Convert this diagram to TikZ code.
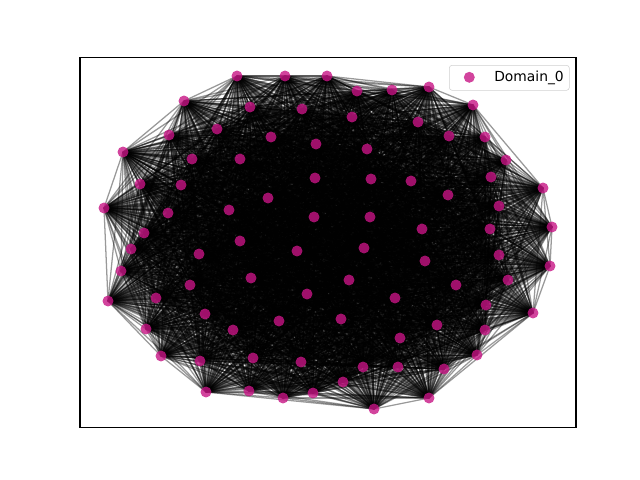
\documentclass[tikz,border=0pt]{standalone}
\usepackage{fontspec}
\setmainfont{DejaVu Sans}
\usepackage{tikz}
\usetikzlibrary{backgrounds}
\definecolor{domaincol}{HTML}{C71585}

\begin{document}
\begin{tikzpicture}[x=0.025cm, y=-0.025cm,
  vertex/.style={fill=domaincol, fill opacity=0.8, circle, inner sep=0pt, minimum size=7.8pt},
  link/.style={draw=black, draw opacity=0.4, line width=0.9pt}]
\useasboundingbox (0,0) rectangle (640,480);
\node[vertex] (N1) at (237,76) {};
\node[vertex] (N2) at (285,76) {};
\node[vertex] (N3) at (327,76) {};
\node[vertex] (N4) at (357,91) {};
\node[vertex] (N5) at (392,90) {};
\node[vertex] (N6) at (429,87) {};
\node[vertex] (N7) at (473,105) {};
\node[vertex] (N8) at (184,101) {};
\node[vertex] (N9) at (250,107) {};
\node[vertex] (N10) at (302,109) {};
\node[vertex] (N11) at (352,117) {};
\node[vertex] (N12) at (418,122) {};
\node[vertex] (N13) at (217,129) {};
\node[vertex] (N14) at (169,135) {};
\node[vertex] (N15) at (271,137) {};
\node[vertex] (N16) at (316,144) {};
\node[vertex] (N17) at (367,149) {};
\node[vertex] (N18) at (449,136) {};
\node[vertex] (N19) at (485,137) {};
\node[vertex] (N20) at (123,152) {};
\node[vertex] (N21) at (192,159) {};
\node[vertex] (N22) at (240,159) {};
\node[vertex] (N23) at (506,160) {};
\node[vertex] (N24) at (491,177) {};
\node[vertex] (N25) at (140,184) {};
\node[vertex] (N26) at (181,185) {};
\node[vertex] (N27) at (315,178) {};
\node[vertex] (N28) at (371,179) {};
\node[vertex] (N29) at (411,181) {};
\node[vertex] (N30) at (543,188) {};
\node[vertex] (N31) at (104,208) {};
\node[vertex] (N32) at (168,213) {};
\node[vertex] (N33) at (229,210) {};
\node[vertex] (N34) at (268,198) {};
\node[vertex] (N35) at (448,195) {};
\node[vertex] (N36) at (499,206) {};
\node[vertex] (N37) at (314,217) {};
\node[vertex] (N38) at (370,217) {};
\node[vertex] (N39) at (552,227) {};
\node[vertex] (N40) at (422,229) {};
\node[vertex] (N41) at (490,229) {};
\node[vertex] (N42) at (144,233) {};
\node[vertex] (N43) at (240,241) {};
\node[vertex] (N44) at (131,249) {};
\node[vertex] (N45) at (199,254) {};
\node[vertex] (N46) at (297,251) {};
\node[vertex] (N47) at (364,248) {};
\node[vertex] (N48) at (499,255) {};
\node[vertex] (N49) at (425,261) {};
\node[vertex] (N50) at (550,266) {};
\node[vertex] (N51) at (121,271) {};
\node[vertex] (N52) at (251,278) {};
\node[vertex] (N53) at (349,280) {};
\node[vertex] (N54) at (508,280) {};
\node[vertex] (N55) at (190,285) {};
\node[vertex] (N56) at (456,285) {};
\node[vertex] (N57) at (307,294) {};
\node[vertex] (N58) at (156,298) {};
\node[vertex] (N59) at (108,301) {};
\node[vertex] (N60) at (395,298) {};
\node[vertex] (N61) at (486,305) {};
\node[vertex] (N62) at (533,313) {};
\node[vertex] (N63) at (205,314) {};
\node[vertex] (N64) at (279,321) {};
\node[vertex] (N65) at (341,319) {};
\node[vertex] (N66) at (437,325) {};
\node[vertex] (N67) at (146,329) {};
\node[vertex] (N68) at (233,330) {};
\node[vertex] (N69) at (485,330) {};
\node[vertex] (N70) at (400,338) {};
\node[vertex] (N71) at (477,355) {};
\node[vertex] (N72) at (161,356) {};
\node[vertex] (N73) at (200,361) {};
\node[vertex] (N74) at (253,358) {};
\node[vertex] (N75) at (301,362) {};
\node[vertex] (N76) at (363,367) {};
\node[vertex] (N77) at (398,367) {};
\node[vertex] (N78) at (444,369) {};
\node[vertex] (N79) at (343,382) {};
\node[vertex] (N80) at (206,392) {};
\node[vertex] (N81) at (249,391) {};
\node[vertex] (N82) at (313,393) {};
\node[vertex] (N83) at (283,398) {};
\node[vertex] (N84) at (429,398) {};
\node[vertex] (N85) at (374,409) {};
% edges behind the vertices
\begin{pgfonlayer}{background}
\foreach \i in {1,...,84} {
  \pgfmathtruncatemacro{\k}{\i+1}
  \foreach \j in {\k,...,85} {
    \draw[link] (N\i.center) -- (N\j.center);
  }
}
\end{pgfonlayer}
\draw[line width=0.8pt] (80,57.6) rectangle (576,427.2);
% legend
\node[draw=black!18, fill=white, fill opacity=0.8, rounded corners=2pt, minimum width=3cm, minimum height=0.625cm] (legbox) at (509.3,77.8) {};
\node[vertex] (legmark) at (469.3,77.3) {};
\node[anchor=base west, inner sep=0pt, font=\fontsize{9.85}{12}\selectfont] (legtext) at (494,81.5) {Domain\_0};
\end{tikzpicture}
\end{document}
